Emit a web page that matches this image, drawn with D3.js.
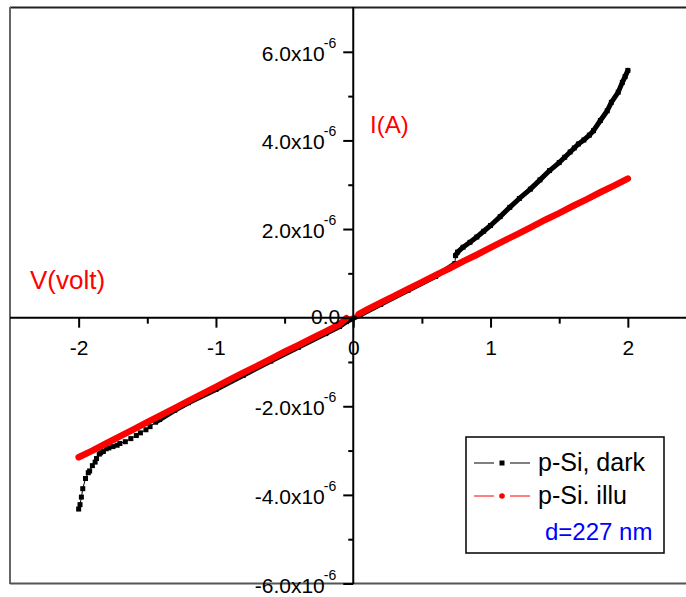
<!DOCTYPE html>
<html><head><meta charset="utf-8">
<script src="https://cdn.jsdelivr.net/npm/d3@7"></script>
<style>body{margin:0;background:#fff}svg{display:block}text{font-family:"Liberation Sans",Arial,sans-serif}</style>
</head><body><svg id="c" width="686" height="597"></svg>
<script>
// ---- data (current in units of 1e-6 A) ----
const xTicks = [-2, -1, 0, 1, 2];
const xTickLabels = ["-2", "-1", "0", "1", "2"];
const xMinor = [-1.5, -0.5, 0.5, 1.5];
const yTicks = [-6, -4, -2, 0, 2, 4, 6];
const yTickLabels = ["-6.0", "-4.0", "-2.0", "0.0", "2.0", "4.0", "6.0"];
const yMinor = [-5, -3, -1, 1, 3, 5];

const darkV = [-2.00,-1.99,-1.98,-1.97,-1.95,-1.93,-1.92,-1.90,-1.88,-1.87,-1.85,-1.84,-1.82,-1.80,-1.78,-1.75,-1.72,-1.70,-1.66,-1.62,-1.58,-1.55,-1.51,-1.48,-1.44,-1.41,-1.30,-1.20,-1.00,-0.80,-0.60,-0.40,-0.20,-0.10,-0.05,
  0.05,0.20,0.40,0.60,0.74,
  0.745,0.76,0.80,0.85,0.90,0.95,1.00,1.07,1.14,1.21,1.29,1.36,1.43,1.50,1.54,1.58,1.61,1.64,1.68,1.72,1.75,1.80,1.85,1.88,1.93,1.96,1.98,2.00];
const darkI = [-4.32,-4.22,-4.05,-3.86,-3.63,-3.50,-3.46,-3.34,-3.26,-3.18,-3.08,-3.05,-3.02,-2.96,-2.94,-2.91,-2.88,-2.84,-2.80,-2.73,-2.66,-2.60,-2.53,-2.46,-2.36,-2.30,-2.09,-1.92,-1.62,-1.30,-0.98,-0.67,-0.36,-0.20,-0.09,
  0.06,0.30,0.62,0.93,1.22,
  1.40,1.48,1.59,1.70,1.82,1.95,2.08,2.28,2.49,2.69,2.90,3.11,3.32,3.50,3.62,3.74,3.83,3.92,4.01,4.12,4.22,4.45,4.67,4.86,5.09,5.31,5.44,5.58];

const illuV = [-2.0,-1.9,-1.8,-1.7,-1.6,-1.5,-1.4,-1.3,-1.2,-1.1,-1.0,-0.9,-0.8,-0.7,-0.6,-0.5,-0.4,-0.3,-0.2,-0.1,-0.05,
  0.04,0.1,0.2,0.3,0.4,0.5,0.6,0.7,0.8,0.9,1.0,1.1,1.2,1.3,1.4,1.5,1.6,1.7,1.8,1.9,2.0];
const illuI = [-3.15,-3.00,-2.84,-2.68,-2.52,-2.36,-2.20,-2.04,-1.88,-1.72,-1.56,-1.40,-1.24,-1.09,-0.93,-0.77,-0.62,-0.46,-0.31,-0.15,-0.01,
  0.08,0.18,0.34,0.49,0.65,0.80,0.96,1.11,1.27,1.42,1.58,1.74,1.89,2.05,2.21,2.36,2.52,2.67,2.83,2.98,3.14];

const legendNames = ["p-Si, dark", "p-Si. illu"];
const legendNote = "d=227 nm";
const xTitle = "V(volt)", yTitle = "I(A)";

// ---- drawing ----
const svg = d3.select("#c");
const x = d3.scaleLinear().domain([-2.5, 2.5]).range([10, 696.5]);
const y = d3.scaleLinear().domain([-6, 7]).range([583.5, 7.5]);
const x0 = x(0), y0 = y(0);

// frame
svg.append("line").attr("x1",10).attr("x2",686).attr("y1",7.5).attr("y2",7.5).attr("stroke","#222").attr("stroke-width",2);
svg.append("line").attr("x1",10).attr("x2",10).attr("y1",7).attr("y2",584).attr("stroke","#666").attr("stroke-width",2);
svg.append("line").attr("x1",10).attr("x2",686).attr("y1",583.5).attr("y2",583.5).attr("stroke","#555").attr("stroke-width",2);

const pts = (V, I) => V.map((v, i) => [v, I[i]]);
const darkPts = pts(darkV, darkI);
const illuPts = pts(illuV, illuI);
const line = d3.line().x(d => x(d[0])).y(d => y(d[1]));

// dark series
svg.append("path").attr("d", line(darkPts)).attr("fill","none").attr("stroke","#000").attr("stroke-width",1);
svg.append("path").attr("d", line(darkPts.filter(d => d[0] >= 0.745)))
  .attr("fill","none").attr("stroke","#000").attr("stroke-width",5).attr("stroke-linecap","round").attr("stroke-linejoin","round");
svg.append("path").attr("d", line(darkPts.filter(d => d[0] > -1.45 && d[0] < 0.745)))
  .attr("fill","none").attr("stroke","#000").attr("stroke-width",5);
svg.append("g").selectAll("rect").data(darkPts).join("rect")
  .attr("x", d => x(d[0]) - 2.5).attr("y", d => y(d[1]) - 2.5).attr("width",5).attr("height",5).attr("fill","#000");

// illuminated series
svg.append("path").attr("d", line(illuPts)).attr("fill","none").attr("stroke","#f00").attr("stroke-width",1.2);
svg.append("path").attr("d", line(illuPts.filter(d => d[0] <= -0.05)))
  .attr("fill","none").attr("stroke","#f00").attr("stroke-width",6.5).attr("stroke-linecap","round");
svg.append("path").attr("d", line(illuPts.filter(d => d[0] >= 0.04)))
  .attr("fill","none").attr("stroke","#f00").attr("stroke-width",6.5).attr("stroke-linecap","round");

// axes
svg.append("line").attr("x1",10).attr("x2",686).attr("y1",y0).attr("y2",y0).attr("stroke","#000").attr("stroke-width",2);
svg.append("line").attr("x1",x0).attr("x2",x0).attr("y1",7).attr("y2",584).attr("stroke","#000").attr("stroke-width",2);

const xAx = svg.append("g").attr("transform",`translate(0,${y0})`)
  .call(d3.axisBottom(x).tickValues(xTicks).tickSize(10).tickFormat((d,i) => xTickLabels[i]));
xAx.select(".domain").remove();
xAx.selectAll("line").attr("stroke","#000").attr("stroke-width",2);
xAx.selectAll("text").attr("y",37).attr("dy",null).attr("font-size",21).attr("fill","#000")
  .attr("font-family",'"Liberation Sans",Arial,sans-serif');
const xMi = svg.append("g").attr("transform",`translate(0,${y0})`)
  .call(d3.axisBottom(x).tickValues(xMinor).tickSize(6).tickFormat(""));
xMi.select(".domain").remove();
xMi.selectAll("line").attr("stroke","#000").attr("stroke-width",2);

const yAx = svg.append("g").attr("transform",`translate(${x0},0)`)
  .call(d3.axisLeft(y).tickValues(yTicks).tickSize(10).tickFormat(""));
yAx.select(".domain").remove();
yAx.selectAll("line").attr("stroke","#000").attr("stroke-width",2);
const yMi = svg.append("g").attr("transform",`translate(${x0},0)`)
  .call(d3.axisLeft(y).tickValues(yMinor).tickSize(5).tickFormat(""));
yMi.select(".domain").remove();
yMi.selectAll("line").attr("stroke","#000").attr("stroke-width",2);

// y tick labels with superscript
yTicks.forEach((v, i) => {
  const t = svg.append("text").attr("text-anchor","end").attr("font-size",21).attr("fill","#000");
  if (v === 0) {
    t.attr("x", x0 - 13).attr("y", y(v) + 6).text(yTickLabels[i]);
  } else {
    t.attr("x", x0 - 17).attr("y", y(v) + 9);
    t.append("tspan").text(yTickLabels[i] + "x10");
    t.append("tspan").attr("dy",-13).attr("dx",-1).attr("font-size",14).text("-6");
  }
});

// axis titles
svg.append("text").attr("x",370).attr("y",133).attr("font-size",24).attr("fill","#f00").text(yTitle);
svg.append("text").attr("x",30).attr("y",289).attr("font-size",26).attr("fill","#f00").text(xTitle);

// legend
const lg = svg.append("g");
lg.append("rect").attr("x",466).attr("y",437).attr("width",198).attr("height",116).attr("fill","#fff").attr("stroke","#000").attr("stroke-width",1.5);
const lcol = ["#000", "#f00"];
[463, 496].forEach((ly, i) => {
  lg.append("line").attr("x1",474).attr("x2",494).attr("y1",ly).attr("y2",ly).attr("stroke",lcol[i]).attr("stroke-width",1);
  lg.append("line").attr("x1",510).attr("x2",530).attr("y1",ly).attr("y2",ly).attr("stroke",lcol[i]).attr("stroke-width",1);
  if (i === 0) lg.append("rect").attr("x",499.5).attr("y",ly-2.5).attr("width",5).attr("height",5).attr("fill","#000");
  else lg.append("circle").attr("cx",502).attr("cy",ly).attr("r",2.8).attr("fill","#f00");
  lg.append("text").attr("x",538).attr("y",ly+8).attr("font-size",25).attr("fill","#000").text(legendNames[i]);
});
lg.append("text").attr("x",545).attr("y",540).attr("font-size",24).attr("fill","#00f").text(legendNote);
</script></body></html>
